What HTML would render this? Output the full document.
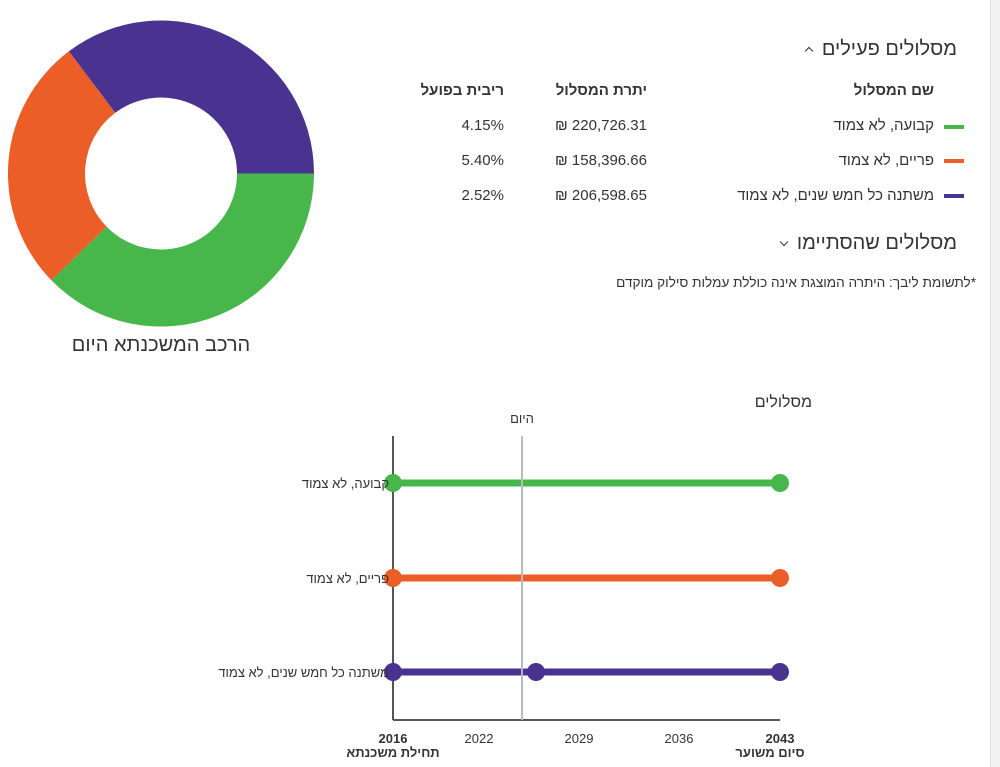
<!DOCTYPE html>
<html><head><meta charset="utf-8"><style>
body{margin:0;width:1000px;height:767px;background:#fff;font-family:"Liberation Sans","Noto Sans CJK JP",sans-serif;color:#333;position:relative;overflow:hidden}
.a{position:absolute;white-space:nowrap}
.r{direction:rtl}
.chev{display:inline-block;width:5px;height:5px;border-left:1.5px solid #333;border-top:1.5px solid #333;vertical-align:middle;margin-right:4px}
</style></head><body>
<div class="a" style="left:990px;top:0;width:10px;height:767px;background:#f1f1f1;border-left:1px solid #e2e2e2"></div>
<svg class="a" style="left:0;top:0" width="330" height="340">
<path d="M314,173.5 A153,153 0 0 1 51.5,280.4 L106.6,226.6 A76,76 0 0 0 237,173.5Z" fill="#48b74b"/>
<path d="M51.5,280.4 A153,153 0 0 1 68.9,51.3 L115.3,112.8 A76,76 0 0 0 106.6,226.6Z" fill="#ec5e27"/>
<path d="M68.9,51.3 A153,153 0 0 1 314,173.5 L237,173.5 A76,76 0 0 0 115.3,112.8Z" fill="#4a3290"/>
</svg>
<div class="a r" style="left:60px;top:334px;width:202px;text-align:center;font-size:20px;color:#333">הרכב המשכנתא היום</div>

<div class="a r" style="right:43px;top:38px;font-size:20px;color:#333">מסלולים פעילים <span class="chev" style="transform:rotate(45deg);margin-top:2px"></span></div>
<div class="a r" style="right:66px;top:82px;font-size:15px;font-weight:bold">שם המסלול</div>
<div class="a r" style="right:353px;top:82px;font-size:15px;font-weight:bold">יתרת המסלול</div>
<div class="a r" style="right:496px;top:82px;font-size:15px;font-weight:bold">ריבית בפועל</div>

<div class="a" style="left:944px;top:125px;width:20px;height:4px;background:#48b74b"></div>
<div class="a" style="left:944px;top:159px;width:20px;height:4px;background:#ec5e27"></div>
<div class="a" style="left:944px;top:194px;width:20px;height:4px;background:#4a3290"></div>
<div class="a r" style="right:66px;top:117px;font-size:15px">קבועה, לא צמוד</div>
<div class="a r" style="right:66px;top:152px;font-size:15px">פריים, לא צמוד</div>
<div class="a r" style="right:66px;top:187px;font-size:15px">משתנה כל חמש שנים, לא צמוד</div>
<div class="a" style="right:353px;top:117px;font-size:15px">₪ 220,726.31</div>
<div class="a" style="right:353px;top:152px;font-size:15px">₪ 158,396.66</div>
<div class="a" style="right:353px;top:187px;font-size:15px">₪ 206,598.65</div>
<div class="a" style="right:496px;top:117px;font-size:15px">4.15%</div>
<div class="a" style="right:496px;top:152px;font-size:15px">5.40%</div>
<div class="a" style="right:496px;top:187px;font-size:15px">2.52%</div>

<div class="a r" style="right:43px;top:232px;font-size:20px">מסלולים שהסתיימו <span class="chev" style="transform:rotate(225deg);margin-top:-4px"></span></div>
<div class="a r" style="right:24px;top:275px;font-size:13.6px">*לתשומת ליבך: היתרה המוצגת אינה כוללת עמלות סילוק מוקדם</div>

<svg class="a" style="left:0;top:380px" width="990" height="387" font-family="Liberation Sans, Noto Sans CJK JP, sans-serif">
<text x="812" y="27" font-size="16" text-anchor="end" fill="#333">מסלולים</text>
<text x="522" y="43" font-size="13" text-anchor="middle" fill="#333">היום</text>
<line x1="393" y1="56" x2="393" y2="340" stroke="#555" stroke-width="2"/>
<line x1="393" y1="340" x2="780" y2="340" stroke="#555" stroke-width="2"/>
<line x1="393" y1="103" x2="780" y2="103" stroke="#48b74b" stroke-width="7"/>
<line x1="393" y1="198" x2="780" y2="198" stroke="#ec5e27" stroke-width="7"/>
<line x1="393" y1="292" x2="780" y2="292" stroke="#4a3290" stroke-width="7"/>
<line x1="522" y1="56" x2="522" y2="340" stroke="#bbb" stroke-width="2"/>
<circle cx="393" cy="103" r="9" fill="#48b74b"/><circle cx="780" cy="103" r="9" fill="#48b74b"/>
<circle cx="393" cy="198" r="9" fill="#ec5e27"/><circle cx="780" cy="198" r="9" fill="#ec5e27"/>
<circle cx="393" cy="292" r="9" fill="#4a3290"/><circle cx="536" cy="292" r="9" fill="#4a3290"/><circle cx="780" cy="292" r="9" fill="#4a3290"/>
<g font-size="13" fill="#333" text-anchor="end">
<text x="389" y="108">קבועה, לא צמוד</text>
<text x="389" y="203">פריים, לא צמוד</text>
<text x="389" y="297">משתנה כל חמש שנים, לא צמוד</text>
</g>
<g font-size="13" fill="#333" text-anchor="middle">
<text x="393" y="363" font-weight="bold">2016</text>
<text x="479" y="363">2022</text>
<text x="579" y="363">2029</text>
<text x="679" y="363">2036</text>
<text x="780" y="363" font-weight="bold">2043</text>
<text x="393" y="377" font-weight="bold">תחילת משכנתא</text>
<text x="770" y="377" font-weight="bold">סיום משוער</text>
</g>
</svg>
</body></html>
